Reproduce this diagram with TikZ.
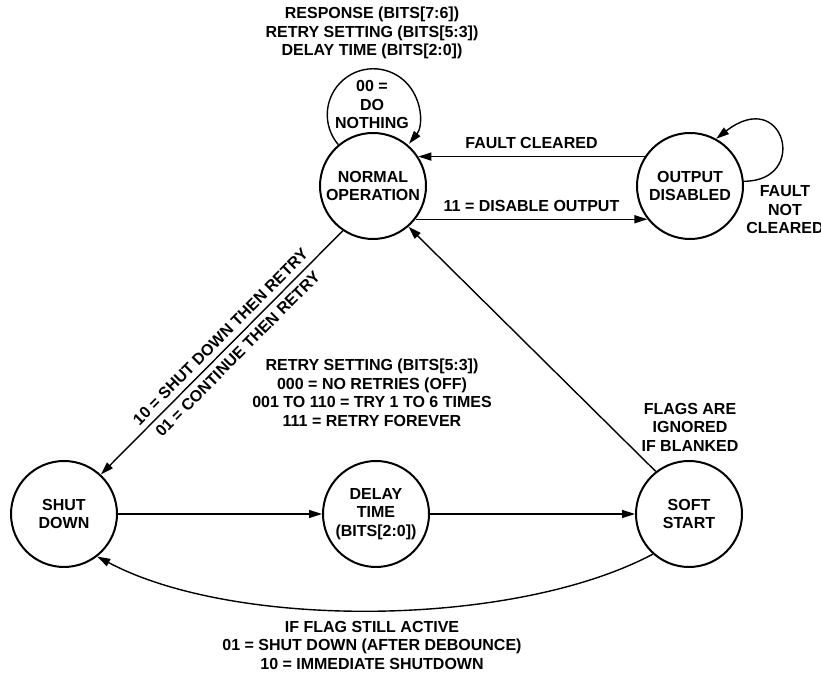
\documentclass[tikz,border=0pt]{standalone}
\usepackage{fontspec}
\setmainfont{Liberation Sans}
\usetikzlibrary{arrows.meta}
\begin{document}
\begin{tikzpicture}[x=1bp,y=1bp,
	font=\fontsize{16bp}{18.5bp}\selectfont\bfseries,
	state/.style={draw, circle, line width=2bp, minimum size=106bp, inner sep=0pt, align=center},
	txt/.style={align=center},
	arr/.style={line width=1.4bp, -{Triangle[length=13bp,width=8bp]}}]
	\useasboundingbox (0,0) rectangle (821,675);
	\node [state] (normal) at (373,489) {NORMAL\\OPERATION};
	\node [state] (outd) at (690,489) {OUTPUT\\DISABLED};
	\node [state] (shut) at (64,161) {SHUT\\DOWN};
	\node [state] (delay) at (376,161) {DELAY\\TIME\\(BITS[2:0])};
	\node [state] (soft) at (689,161) {SOFT\\START};
	\node [txt] (fields) at (372,642) {RESPONSE (BITS[7:6])\\RETRY SETTING (BITS[5:3])\\DELAY TIME (BITS[2:0])};
	\node [txt] (nothing) at (372,570) {00 =\\DO\\NOTHING};
	\node [txt] (notclr) at (785,465) {FAULT\\NOT\\CLEARED};
	\node [txt] (retry) at (372,282) {RETRY SETTING (BITS[5:3])\\000 = NO RETRIES (OFF)\\001 TO 110 = TRY 1 TO 6 TIMES\\111 = RETRY FOREVER};
	\node [txt] (flags) at (690,248) {FLAGS ARE\\IGNORED\\IF BLANKED};
	\node [txt] (still) at (372,30) {IF FLAG STILL ACTIVE\\01 = SHUT DOWN (AFTER DEBOUNCE)\\10 = IMMEDIATE SHUTDOWN};
	\draw [arr] (normal.130) arc [start angle=220.5, end angle=-39, radius=46];
	\draw [arr] (outd.5) .. controls +(66,0) and +(68,53) .. (outd.61);
	\draw [arr] (outd.147) -- node [above=4bp] {FAULT CLEARED} (normal.33);
	\draw [arr] (normal.-38) -- node [above=4bp] {11 = DISABLE OUTPUT} (outd.218);
	\draw [arr] (normal.236) -- node [pos=0.47, sloped, above=2.5bp] {10 = SHUT DOWN THEN RETRY} node [pos=0.47, sloped, below=2.5bp] {01 = CONTINUE THEN RETRY} (shut.47);
	\draw [arr] (shut) -- (delay);
	\draw [arr] (delay) -- (soft);
	\draw [arr] (soft.128) -- (normal.-49);
	\draw [arr] (soft.228) to [out=208, in=-28, looseness=0.72] (shut.-52);
\end{tikzpicture}
\end{document}
